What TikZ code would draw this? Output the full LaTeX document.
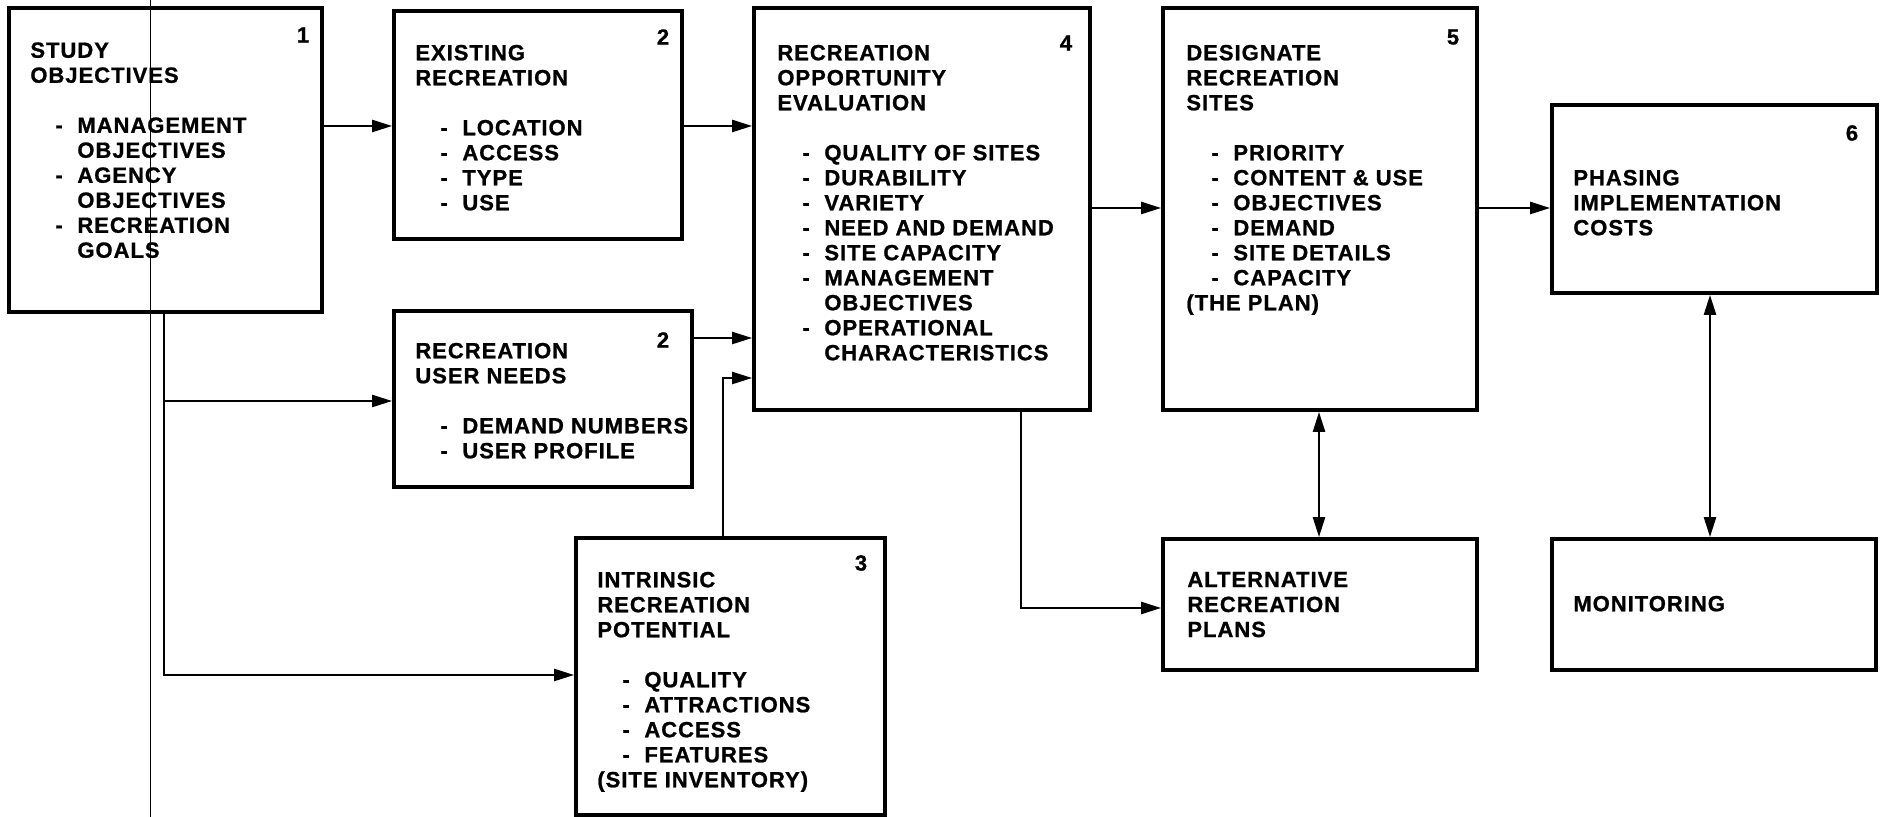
\documentclass[tikz,border=0pt]{standalone}
\usepackage{fontspec}
\setmainfont{Liberation Sans}[LetterSpace=4.5, BoldFeatures={FakeBold=1}]
\usetikzlibrary{arrows.meta,fit}
\newcommand\rdash[1]{\hspace*{12.5pt}\makebox[11pt][l]{-}#1}
\newcommand\rcont[1]{\hspace*{23.5pt}#1}
\begin{document}
\begin{tikzpicture}[x=0.5pt,y=-0.5pt,
  box/.style={draw, line width=1.9pt, inner sep=0pt},
  txt/.style={anchor=north west, inner sep=0pt, align=left, font=\fontsize{11}{12.5}\selectfont\bfseries},
  num/.style={inner sep=0pt, font=\fontsize{11}{12.5}\selectfont\bfseries},
  conn/.style={line width=1.2pt},
  arr/.style={conn, -{Triangle[length=10pt, width=6pt]}},
  darr/.style={conn, {Triangle[length=10pt, width=6pt]}-{Triangle[length=10pt, width=6pt]}},
  thinline/.style={line width=0.5pt}]
\fill[white] (0,0) rectangle (1881,817);
\useasboundingbox (0,0) rectangle (1881,817);

% boxes
\node[box, fit={(9,8) (322,312)}] (b1) {};
\node[box, fit={(394,11) (682,239)}] (b2a) {};
\node[box, fit={(394,311) (692,487)}] (b2b) {};
\node[box, fit={(576,538) (885,815)}] (b3) {};
\node[box, fit={(754,8) (1090,410)}] (b4) {};
\node[box, fit={(1163,8) (1477,410)}] (b5) {};
\node[box, fit={(1552,105) (1877,293)}] (b6) {};
\node[box, fit={(1163,539) (1477,670)}] (alt) {};
\node[box, fit={(1552,539) (1876,670)}] (mon) {};

% numbers
\node[num] (n1) at (303,35) {1};
\node[num] (n2a) at (663,37) {2};
\node[num] (n2b) at (663,340) {2};
\node[num] (n3) at (861,563) {3};
\node[num] (n4) at (1066,43) {4};
\node[num] (n5) at (1453,37) {5};
\node[num] (n6) at (1852,133) {6};

% texts
\node[txt] (t1) at (30,42) {STUDY\\OBJECTIVES\\[12.5pt]
  \rdash{MANAGEMENT}\\\rcont{OBJECTIVES}\\\rdash{AGENCY}\\\rcont{OBJECTIVES}\\\rdash{RECREATION}\\\rcont{GOALS}};
\node[txt] (t2a) at (415,44.5) {EXISTING\\RECREATION\\[12.5pt]
  \rdash{LOCATION}\\\rdash{ACCESS}\\\rdash{TYPE}\\\rdash{USE}};
\node[txt] (t2b) at (415,342.5) {RECREATION\\USER NEEDS\\[12.5pt]
  \rdash{DEMAND NUMBERS}\\\rdash{USER PROFILE}};
\node[txt] (t3) at (597,571.5) {INTRINSIC\\RECREATION\\POTENTIAL\\[12.5pt]
  \rdash{QUALITY}\\\rdash{ATTRACTIONS}\\\rdash{ACCESS}\\\rdash{FEATURES}\\(SITE INVENTORY)};
\node[txt] (t4) at (777,44.5) {RECREATION\\OPPORTUNITY\\EVALUATION\\[12.5pt]
  \rdash{QUALITY OF SITES}\\\rdash{DURABILITY}\\\rdash{VARIETY}\\\rdash{NEED AND DEMAND}\\\rdash{SITE CAPACITY}\\\rdash{MANAGEMENT}\\\rcont{OBJECTIVES}\\\rdash{OPERATIONAL}\\\rcont{CHARACTERISTICS}};
\node[txt] (t5) at (1186,44.5) {DESIGNATE\\RECREATION\\SITES\\[12.5pt]
  \rdash{PRIORITY}\\\rdash{CONTENT \& USE}\\\rdash{OBJECTIVES}\\\rdash{DEMAND}\\\rdash{SITE DETAILS}\\\rdash{CAPACITY}\\(THE PLAN)};
\node[txt] (t6) at (1573,169.5) {PHASING\\IMPLEMENTATION\\COSTS};
\node[txt] (talt) at (1187,571.5) {ALTERNATIVE\\RECREATION\\PLANS};
\node[txt] (tmon) at (1573,595.5) {MONITORING};

% helper coordinates
\coordinate (y126) at (0,126);
\coordinate (y338) at (0,338);
\coordinate (y378) at (0,378);
\coordinate (y401) at (0,401);
\coordinate (y675) at (0,675);
\coordinate (y208) at (0,208);
\coordinate (y608) at (0,608);
\coordinate (x164) at (164,0);
\coordinate (x723) at (723,0);
\coordinate (x1021) at (1021,0);
\coordinate (x1319) at (1319,0);
\coordinate (x1710) at (1710,0);
\coordinate (ltop) at (150,0);
\coordinate (lbot) at (150,817);

% connectors
\draw[arr] (b1.east |- y126) -- (b2a.west |- y126);
\draw[arr] (b2a.east |- y126) -- (b4.west |- y126);
\draw[arr] (b2b.east |- y338) -- (b4.west |- y338);
\draw[arr] (b3.north -| x723) -- (x723 |- y378) -- (b4.west |- y378);
\draw[arr] (b1.south -| x164) -- (x164 |- y675) -- (b3.west |- y675);
\draw[arr] (x164 |- y401) -- (b2b.west |- y401);
\draw[arr] (b4.east |- y208) -- (b5.west |- y208);
\draw[arr] (b5.east |- y208) -- (b6.west |- y208);
\draw[arr] (b4.south -| x1021) -- (x1021 |- y608) -- (alt.west |- y608);
\draw[darr] (b5.south -| x1319) -- (alt.north -| x1319);
\draw[darr] (b6.south -| x1710) -- (mon.north -| x1710);

% thin fold line
\draw[thinline] (ltop) -- (lbot);
\end{tikzpicture}
\end{document}
